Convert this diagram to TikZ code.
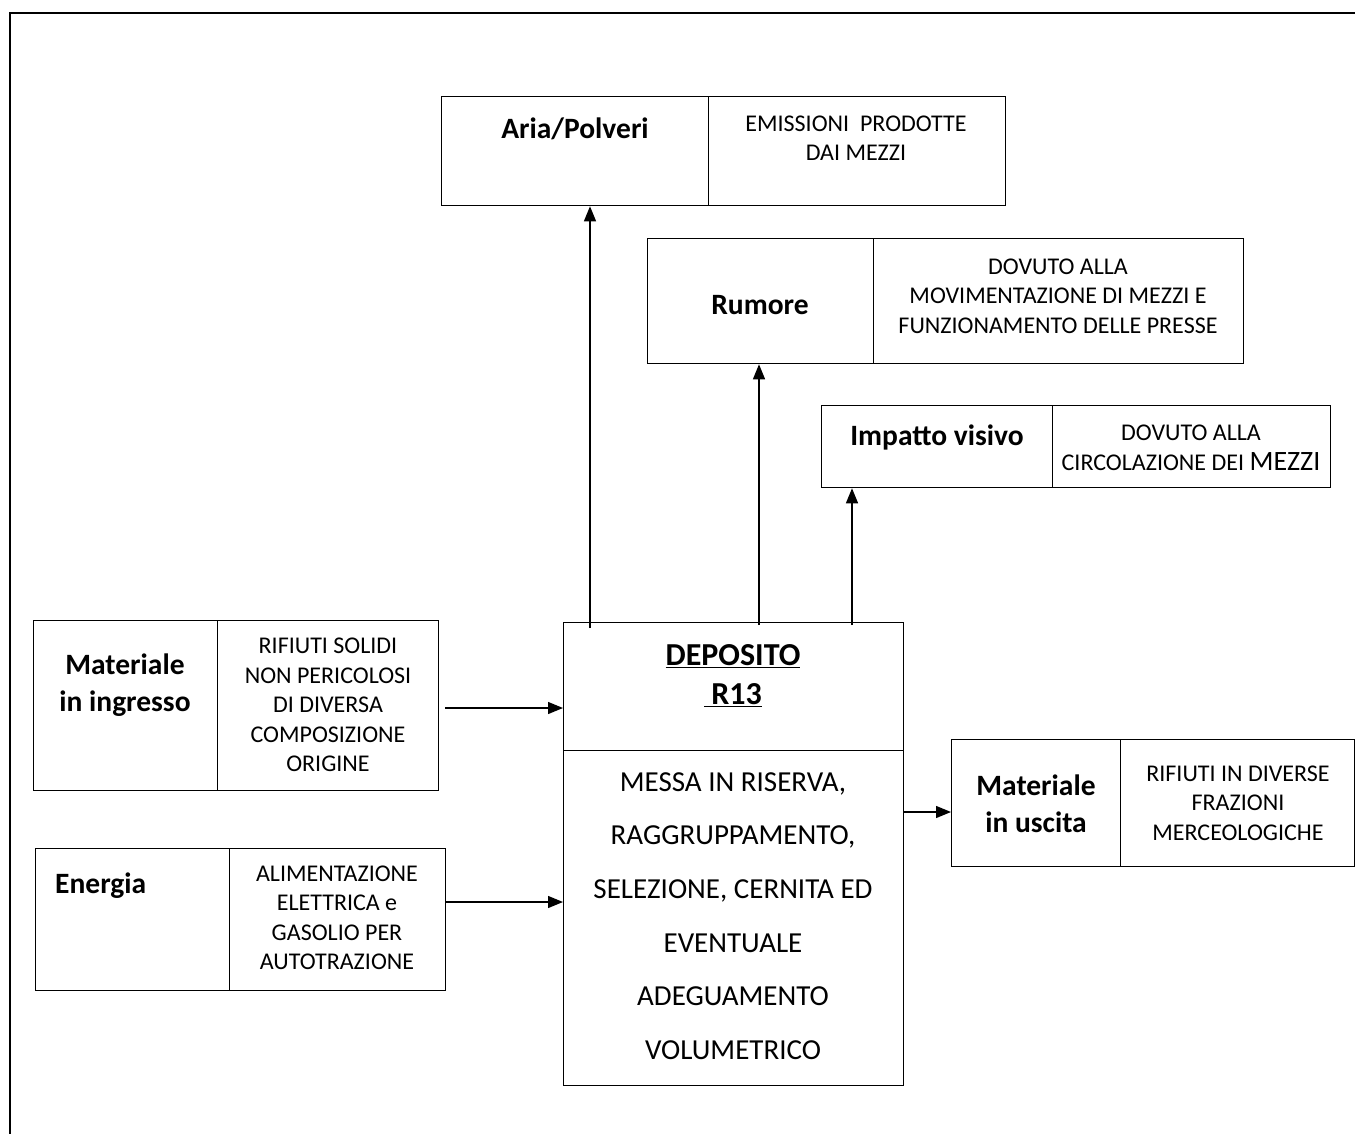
\documentclass[tikz,border=0pt]{standalone}
\usepackage{fontspec}
\setmainfont{Carlito}
\usetikzlibrary{arrows.meta}
\tikzset{
  boxline/.style={draw, line width=1.3pt},
  cellbox/.style={boxline, inner sep=0pt, rectangle},
  smalltxt/.style={inner sep=0pt, align=center, font=\fontsize{24}{29.5}\selectfont},
  headtxt/.style={inner sep=0pt, align=center, font=\fontsize{29.5}{36.5}\selectfont\bfseries},
  bigtxt/.style={inner sep=0pt, align=center, font=\fontsize{29}{53.6}\selectfont},
  arr/.style={line width=1.3pt, -{Triangle[length=15pt,width=12pt]}},
  frameline/.style={line width=2.4pt}
}
\newcommand\mkbox[5]{%
  \node[cellbox, minimum width={#4pt-#2pt}, minimum height={#5pt-#3pt}, anchor=north west] (#1) at (#2,#3) {};}
\begin{document}
\begin{tikzpicture}[x=1pt,y=-1pt]
\useasboundingbox (0,0) rectangle (1355,1134);
% outer frame
\coordinate (fTL) at (10,13);
\coordinate (fTR) at (1355,13);
\coordinate (fBL) at (10,1134);
\draw[frameline] (fBL) -- (fTL) -- (fTR);

% Aria/Polveri
\mkbox{ariaL}{441}{96}{708}{205}
\mkbox{ariaR}{708}{96}{1005}{205}
\node[headtxt] (ariaT) at (575,129) {Aria/Polveri};
\node[smalltxt] (ariaD) at (856,138) {EMISSIONI\ \ PRODOTTE\\DAI MEZZI};

% Rumore
\mkbox{rumL}{647}{238}{873}{363}
\mkbox{rumR}{873}{238}{1243}{363}
\node[headtxt] (rumT) at (760,305) {Rumore};
\node[smalltxt] (rumD) at (1058,296) {DOVUTO ALLA\\MOVIMENTAZIONE DI MEZZI E\\FUNZIONAMENTO DELLE PRESSE};

% Impatto visivo
\mkbox{impL}{821}{405}{1052}{487}
\mkbox{impR}{1052}{405}{1330}{487}
\node[headtxt] (impT) at (937,437) {Impatto visivo};
\node[smalltxt] (impD) at (1191,448) {DOVUTO ALLA\\CIRCOLAZIONE DEI {\fontsize{28}{29.5}\selectfont MEZZI}};

% Materiale in ingresso
\mkbox{ingL}{33}{620}{217}{790}
\mkbox{ingR}{217}{620}{438}{790}
\node[headtxt] (ingT) at (125,685) {Materiale\\in ingresso};
\node[smalltxt] (ingD) at (328,705) {RIFIUTI SOLIDI\\NON PERICOLOSI\\DI DIVERSA\\COMPOSIZIONE\\ORIGINE};

% Energia
\mkbox{enL}{35}{848}{229}{990}
\mkbox{enR}{229}{848}{445}{990}
\node[headtxt, anchor=west] (enT) at (55,886) {Energia};
\node[smalltxt] (enD) at (337,918) {ALIMENTAZIONE\\ELETTRICA e\\GASOLIO PER\\AUTOTRAZIONE};

% Deposito
\mkbox{depT}{563}{622}{903}{750}
\mkbox{depB}{563}{750}{903}{1085}
\node[headtxt, font=\fontsize{32}{39}\selectfont\bfseries] (depH) at (733,676) {\underline{DEPOSITO}\\\underline{\ R13}};
\node[bigtxt] (depD) at (733,916) {MESSA IN RISERVA,\\RAGGRUPPAMENTO,\\SELEZIONE, CERNITA ED\\EVENTUALE\\ADEGUAMENTO\\VOLUMETRICO};

% Materiale in uscita
\mkbox{uscL}{951}{739}{1120}{866}
\mkbox{uscR}{1120}{739}{1354}{866}
\node[headtxt] (uscT) at (1036,804) {Materiale\\in uscita};
\node[smalltxt] (uscD) at (1238,803) {RIFIUTI IN DIVERSE\\FRAZIONI\\MERCEOLOGICHE};

% connectors
\coordinate (s1) at (590,628);
\coordinate (s2) at (759,625);
\coordinate (s3) at (852,625);
\draw[arr] (s1) -- (s1 |- ariaL.south);
\draw[arr] (s2) -- (s2 |- rumL.south);
\draw[arr] (s3) -- (s3 |- impL.south);
\coordinate (i1) at (445,708);
\draw[arr] (i1) -- (i1 -| depT.west);
\coordinate (e1) at (445,902);
\draw[arr] (e1) -- (e1 -| depB.west);
\coordinate (u1) at (903,812);
\draw[arr] (u1) -- (u1 -| uscL.west);
\end{tikzpicture}
\end{document}
